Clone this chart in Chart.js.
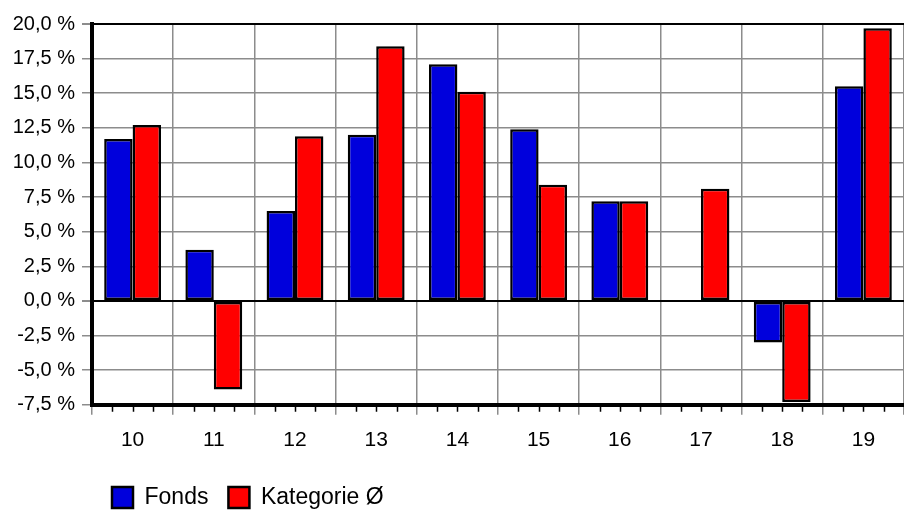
<!DOCTYPE html>
<html>
<head>
<meta charset="utf-8">
<script src="https://cdn.jsdelivr.net/npm/chart.js"></script>
<style type="text/css">
  html, body { margin: 0; padding: 0; background: #fff; }
  #wrap { width: 904px; height: 510px; }
</style>
</head>
<body>
<div id="wrap"><canvas id="perfChart" width="904" height="510"></canvas></div>

<script>
  // Jahresperformance: Fonds gegen Kategorie-Durchschnitt
  const years = ['10', '11', '12', '13', '14', '15', '16', '17', '18', '19'];
  const fondsValues = [11.7, 3.7, 6.5, 12.0, 17.1, 12.4, 7.2, 0.0, -3.0, 15.5];
  const kategorieValues = [12.7, -6.4, 11.9, 18.4, 15.1, 8.4, 7.2, 8.1, -7.3, 19.7];
  const seriesNames = ['Fonds', 'Kategorie Ø'];
  const yMin = -7.5, yMax = 20, yStep = 2.5;

  const fontFamily = '"Liberation Sans", Arial, sans-serif';

  function pct(v) {
    return v.toFixed(1).replace('.', ',') + ' %';
  }

  // kleine schwarze Striche unter der x-Achse (Viertel einer Kategorie)
  const minorTicks = {
    id: 'minorTicks',
    afterDraw(chart) {
      const x = chart.scales.x;
      const ctx = chart.ctx;
      const step = x.getPixelForValue(1) - x.getPixelForValue(0);
      ctx.save();
      ctx.strokeStyle = '#000';
      ctx.lineWidth = 1.5;
      ctx.beginPath();
      years.forEach((y, i) => {
        [-0.25, 0, 0.25].forEach(f => {
          const px = Math.round(x.getPixelForValue(i) + f * step) + 0.5;
          ctx.moveTo(px, x.top);
          ctx.lineTo(px, x.top + 7);
        });
      });
      ctx.stroke();
      ctx.restore();
    }
  };

  new Chart(document.getElementById('perfChart'), {
    type: 'bar',
    data: {
      labels: years,
      datasets: [{
        label: seriesNames[0],
        data: fondsValues,
        backgroundColor: '#0000DC',
        borderColor: '#000',
        borderWidth: 2.5,
        borderSkipped: false
      }, {
        label: seriesNames[1],
        data: kategorieValues,
        backgroundColor: '#FF0000',
        borderColor: '#000',
        borderWidth: 2.5,
        borderSkipped: false
      }]
    },
    plugins: [minorTicks],
    options: {
      responsive: false,
      animation: false,
      categoryPercentage: 0.7,
      barPercentage: 1.0,
      layout: {
        padding: { top: 24, right: 0, left: 0, bottom: -9 }
      },
      plugins: {
        tooltip: { enabled: false },
        legend: {
          position: 'bottom',
          align: 'start',
          fullSize: false,
          labels: {
            boxWidth: 21,
            boxHeight: 21,
            padding: 20,
            color: '#000',
            font: { family: fontFamily, size: 23 }
          }
        }
      },
      scales: {
        x: {
          offset: true,
          grid: {
            offset: true,
            color: '#8c8c8c',
            lineWidth: 1.5,
            tickLength: 10,
            tickColor: '#8c8c8c'
          },
          border: { color: '#000', width: 4 },
          ticks: {
            color: '#000',
            padding: 13,
            font: { family: fontFamily, size: 21 }
          }
        },
        y: {
          min: yMin,
          max: yMax,
          afterFit(scale) { scale.width = 92; },
          grid: {
            color: ctx => (ctx.tick && (ctx.tick.value === 0 || ctx.tick.value === yMax)) ? '#000' : '#8c8c8c',
            lineWidth: ctx => (ctx.tick && (ctx.tick.value === 0 || ctx.tick.value === yMax)) ? 2 : 1.5,
            tickLength: 10,
            tickColor: '#8c8c8c'
          },
          border: { color: '#000', width: 4 },
          ticks: {
            stepSize: yStep,
            color: '#000',
            padding: 7,
            font: { family: fontFamily, size: 20 },
            callback: v => pct(v)
          }
        }
      }
    }
  });
</script>
</body>
</html>
